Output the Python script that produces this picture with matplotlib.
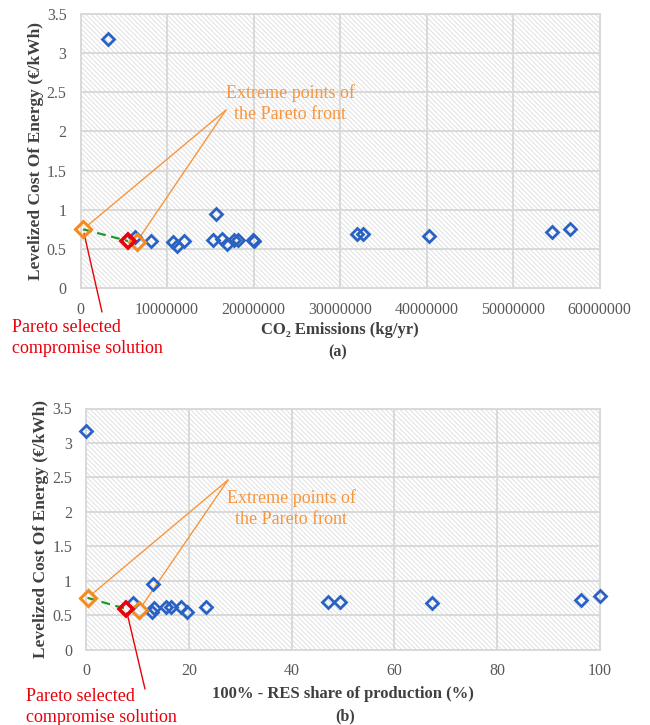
import matplotlib
matplotlib.use("Agg")
import matplotlib.pyplot as plt
from matplotlib.patches import Rectangle

plt.rcParams['font.family'] = ['Liberation Serif', 'DejaVu Serif']
plt.rcParams['hatch.linewidth'] = 0.6

# (a) CO2 emissions vs LCOE
co2_blue = [3.2e6, 6.3e6, 8.2e6, 10.7e6, 11.1e6, 12.0e6, 15.3e6, 15.7e6, 16.4e6,
            16.9e6, 17.7e6, 18.2e6, 19.9e6, 20.1e6, 32.0e6, 32.7e6, 40.3e6,
            54.5e6, 56.6e6]
lcoe_blue_a = [3.18, 0.65, 0.60, 0.59, 0.54, 0.60, 0.61, 0.94, 0.62,
               0.56, 0.61, 0.61, 0.61, 0.60, 0.69, 0.69, 0.67,
               0.71, 0.76]
co2_extreme = [0.3e6, 6.5e6]
lcoe_extreme_a = [0.75, 0.59]
co2_selected = [5.5e6]
lcoe_selected_a = [0.60]

# (b) 100% - RES share vs LCOE
res_blue = [0.0, 9.1, 12.8, 13.0, 13.3, 15.5, 16.5, 18.5, 19.6, 23.3,
            47.0, 49.5, 67.4, 96.4, 100.0]
lcoe_blue_b = [3.18, 0.67, 0.55, 0.95, 0.60, 0.61, 0.61, 0.61, 0.55, 0.61,
               0.69, 0.69, 0.67, 0.72, 0.77]
res_extreme = [0.3, 10.4]
lcoe_extreme_b = [0.75, 0.58]
res_selected = [7.8]
lcoe_selected_b = [0.59]

y_ticks = [0, 0.5, 1, 1.5, 2, 2.5, 3, 3.5]
y_ticklabels = ['0', '0.5', '1', '1.5', '2', '2.5', '3', '3.5']
xa_ticks = [0, 10e6, 20e6, 30e6, 40e6, 50e6, 60e6]
xa_ticklabels = ['0', '10000000', '20000000', '30000000', '40000000', '50000000', '60000000']
xb_ticks = [0, 20, 40, 60, 80, 100]
xb_ticklabels = ['0', '20', '40', '60', '80', '100']

BLUE = '#2a62c4'
ORANGE = '#f58a1f'
RED = '#e8000b'
GREEN = '#1e9a2a'
GRID = '#d9d9d9'
TICKC = '#595959'
NOTE = '#f7963d'

W, H = 650, 725
fig = plt.figure(figsize=(W / 100, H / 100), dpi=100)


def px_axes(l, t, r, b):
    return fig.add_axes([l / W, 1 - b / H, (r - l) / W, (b - t) / H])


def style(ax, xticks, xlabels, xmax):
    ax.add_patch(Rectangle((0, 0), 1, 1, transform=ax.transAxes,
                           facecolor='white', edgecolor='#dcdcdc',
                           hatch='\\' * 7, lw=0, zorder=0))
    ax.set_xlim(0, xmax)
    ax.set_ylim(0, 3.5)
    ax.set_yticks(y_ticks)
    ax.set_yticklabels(y_ticklabels)
    ax.set_xticks(xticks)
    ax.set_xticklabels(xlabels)
    ax.grid(True, color=GRID, lw=1.4, zorder=1)
    ax.set_axisbelow(True)
    for s in ax.spines.values():
        s.set_color(GRID)
        s.set_linewidth(1.4)
    ax.tick_params(length=0, colors=TICKC, labelsize=11.5, pad=10)
    ax.set_ylabel('Levelized Cost Of Energy (€/kWh)', fontsize=12.5,
                  fontweight='bold', color='#404040', labelpad=2)


def draw(ax, xb, yb, xe, ye, xs, ys):
    ax.plot([xe[0], xs[0]], [ye[0], ys[0]], ls=(0, (4, 2.5)), color=GREEN,
            lw=1.6, zorder=3)
    ax.plot(xb, yb, ls='none', marker='D', ms=6.5, mfc='none', mec=BLUE,
            mew=2, zorder=4, clip_on=False)
    ax.plot(xe, ye, ls='none', marker='D', ms=8, mfc='none', mec=ORANGE,
            mew=2.2, zorder=5, clip_on=False)
    ax.plot(xs, ys, ls='none', marker='D', ms=7.5, mfc='none', mec=RED,
            mew=2.6, zorder=6, clip_on=False)


# ---------- (a) ----------
ax1 = px_axes(80.5, 14, 599.5, 288)
style(ax1, xa_ticks, xa_ticklabels, 60e6)
draw(ax1, co2_blue, lcoe_blue_a, co2_extreme, lcoe_extreme_a,
     co2_selected, lcoe_selected_a)
ax1.set_xlabel('CO₂ Emissions (kg/yr)', fontsize=12, fontweight='bold',
               color='#404040', labelpad=3)
fig.text(338 / W, 1 - 352 / H, '(a)', ha='center', va='center',
         fontsize=11.5, fontweight='bold', color='#404040')

apex_a = (226, H - 110)
for xe, ye in zip(co2_extreme, lcoe_extreme_a):
    ax1.annotate('', xy=(xe, ye), xycoords='data', xytext=apex_a,
                 textcoords='figure pixels', annotation_clip=False,
                 arrowprops=dict(arrowstyle='-', color=NOTE, lw=1.0,
                                 shrinkA=0, shrinkB=4))
fig.text(290 / W, 1 - 104 / H, 'Extreme points of\nthe Pareto front',
         ha='center', va='center', fontsize=13, color=NOTE, linespacing=1.3)
ax1.annotate('', xy=(co2_extreme[0], lcoe_extreme_a[0]), xycoords='data',
             xytext=(102, H - 312), textcoords='figure pixels',
             annotation_clip=False,
             arrowprops=dict(arrowstyle='-', color=RED, lw=1.0,
                             shrinkA=0, shrinkB=3))
fig.text(12 / W, 1 - 338 / H, 'Pareto selected\ncompromise solution',
         ha='left', va='center', fontsize=13, color=RED, linespacing=1.3)

# ---------- (b) ----------
ax2 = px_axes(86, 408.5, 600, 649.5)
style(ax2, xb_ticks, xb_ticklabels, 100)
draw(ax2, res_blue, lcoe_blue_b, res_extreme, lcoe_extreme_b,
     res_selected, lcoe_selected_b)
ax2.set_xlabel('100% - RES share of production (%)', fontsize=12,
               fontweight='bold', color='#404040', labelpad=5)
fig.text(345 / W, 1 - 716 / H, '(b)', ha='center', va='center',
         fontsize=11.5, fontweight='bold', color='#404040')

apex_b = (228, H - 480)
for xe, ye in zip(res_extreme, lcoe_extreme_b):
    ax2.annotate('', xy=(xe, ye), xycoords='data', xytext=apex_b,
                 textcoords='figure pixels', annotation_clip=False,
                 arrowprops=dict(arrowstyle='-', color=NOTE, lw=1.0,
                                 shrinkA=0, shrinkB=4))
fig.text(291 / W, 1 - 509 / H, 'Extreme points of\nthe Pareto front',
         ha='center', va='center', fontsize=13, color=NOTE, linespacing=1.3)
ax2.annotate('', xy=(res_selected[0], lcoe_selected_b[0]), xycoords='data',
             xytext=(145, H - 689), textcoords='figure pixels',
             annotation_clip=False,
             arrowprops=dict(arrowstyle='-', color=RED, lw=1.0,
                             shrinkA=0, shrinkB=3))
fig.text(26 / W, 1 - 707 / H, 'Pareto selected\ncompromise solution',
         ha='left', va='center', fontsize=13, color=RED, linespacing=1.3)

fig.savefig('out.png', dpi=100)
